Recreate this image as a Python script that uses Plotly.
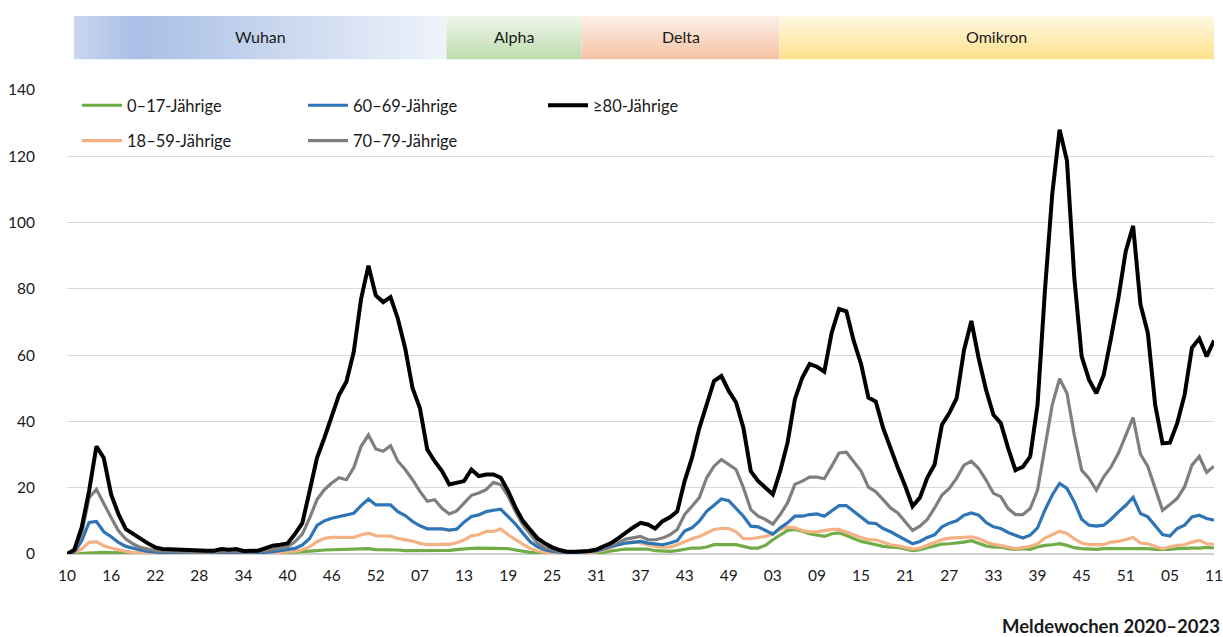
import plotly.graph_objects as go

# ---------------- data ----------------
n_weeks = 157  # Meldewochen 2020-W10 ... 2023-W11 (category index)
tick_positions = list(range(0, 157, 6))
tick_labels = ["10", "16", "22", "28", "34", "40", "46", "52", "07", "13", "19", "25", "31",
               "37", "43", "49", "03", "09", "15", "21", "27", "33", "39", "45", "51", "05", "11"]

age_0_17 = [
    0, 0.1, 0.3, 0.5, 0.6, 0.5, 0.4, 0.3, 0.3, 0.2,
    0.2, 0.2, 0.1, 0.1, 0.1, 0.1, 0.1, 0.1, 0.1, 0.1,
    0.1, 0.1, 0.1, 0.1, 0.1, 0.1, 0.1, 0.2, 0.2, 0.3,
    0.4, 0.5, 0.6, 0.8, 1.0, 1.2, 1.3, 1.4, 1.4, 1.4,
    1.5, 1.6, 1.3, 1.3, 1.3, 1.2, 1.0, 1.0, 1.0, 1.0,
    1.0, 1.0, 1.1, 1.3, 1.6, 1.7, 1.8, 1.8, 1.8, 1.8,
    1.6, 1.2, 0.8, 0.5, 0.3, 0.2, 0.2, 0.2, 0.2, 0.2,
    0.3, 0.4, 0.5, 0.5, 0.9, 1.3, 1.5, 1.5, 1.6, 1.5,
    1.0, 0.9, 0.8, 1.0, 1.3, 1.8, 1.8, 2.1, 2.8, 2.8,
    3.0, 2.8, 2.3, 1.8, 1.8, 2.6, 4.3, 5.8, 7.1, 7.4,
    6.9, 6.1, 5.6, 5.3, 6.1, 6.4, 5.6, 4.6, 3.8, 3.3,
    2.8, 2.3, 2.1, 2.0, 1.5, 1.0, 1.3, 1.8, 2.3, 3.0,
    3.1, 3.3, 3.6, 4.0, 3.1, 2.4, 2.1, 2.1, 1.6, 1.4,
    1.6, 1.4, 2.1, 2.6, 2.8, 3.1, 2.6, 1.9, 1.6, 1.4,
    1.4, 1.6, 1.6, 1.6, 1.8, 1.8, 1.6, 1.6, 1.4, 1.3,
    1.4, 1.6, 1.8, 1.8, 1.8, 2.0, 1.8,
]

age_18_59 = [
    0, 0.3, 1.5, 3.5, 3.7, 2.5, 1.8, 1.2, 0.8, 0.5,
    0.4, 0.3, 0.3, 0.2, 0.2, 0.2, 0.2, 0.2, 0.2, 0.2,
    0.2, 0.2, 0.2, 0.2, 0.2, 0.2, 0.3, 0.3, 0.4, 0.5,
    0.6, 0.8, 1.3, 2.2, 3.7, 4.7, 5.0, 5.0, 5.0, 5.0,
    5.8, 6.3, 5.5, 5.5, 5.4, 4.7, 4.3, 3.9, 3.2, 2.8,
    2.8, 3.0, 2.9, 3.4, 4.2, 5.5, 5.8, 6.8, 6.8, 7.5,
    5.8, 4.3, 2.9, 1.7, 0.9, 0.5, 0.3, 0.2, 0.2, 0.2,
    0.3, 0.4, 0.7, 1.2, 2.0, 2.8, 3.3, 3.8, 3.3, 2.8,
    2.3, 2.1, 2.1, 2.8, 3.8, 4.6, 5.3, 6.4, 7.4, 7.7,
    7.7, 6.7, 4.6, 4.6, 5.0, 5.3, 6.0, 7.4, 8.1, 7.9,
    7.1, 6.7, 6.7, 7.1, 7.4, 7.4, 6.7, 5.8, 5.0, 4.3,
    4.3, 3.5, 2.8, 2.5, 2.1, 1.5, 1.8, 2.6, 3.3, 4.3,
    4.8, 4.8, 5.0, 5.2, 4.6, 3.6, 2.9, 2.6, 2.1, 1.6,
    1.9, 2.3, 3.1, 4.8, 5.8, 6.9, 6.2, 4.6, 3.3, 2.8,
    2.8, 2.8, 3.6, 3.8, 4.4, 5.0, 3.3, 3.1, 2.3, 1.6,
    2.1, 2.6, 2.8, 3.6, 4.1, 3.1, 2.9,
]

age_60_69 = [
    0, 0.5, 4.0, 9.5, 9.8, 6.7, 5.2, 3.5, 2.3, 1.7,
    1.2, 0.8, 0.5, 0.4, 0.3, 0.3, 0.3, 0.3, 0.3, 0.3,
    0.3, 0.3, 0.3, 0.4, 0.3, 0.3, 0.4, 0.5, 0.7, 1.0,
    1.2, 1.7, 2.7, 4.7, 8.6, 10.0, 10.8, 11.3, 11.8, 12.3,
    14.6, 16.6, 14.8, 14.8, 14.8, 12.8, 11.6, 9.8, 8.5, 7.6,
    7.6, 7.6, 7.2, 7.5, 9.6, 11.3, 11.8, 12.8, 13.2, 13.5,
    11.3, 9.0, 6.3, 3.7, 2.2, 1.3, 0.8, 0.5, 0.4, 0.4,
    0.5, 0.6, 0.9, 1.5, 2.3, 2.8, 3.3, 3.5, 3.8, 3.3,
    3.1, 2.8, 3.3, 4.0, 6.9, 7.9, 9.9, 12.9, 14.7, 16.6,
    16.1, 13.9, 11.4, 8.4, 8.2, 7.1, 6.0, 7.9, 9.4, 11.4,
    11.4, 11.9, 12.1, 11.4, 13.1, 14.6, 14.6, 12.9, 10.9, 9.4,
    9.2, 7.7, 6.7, 5.5, 4.3, 3.1, 3.8, 5.0, 5.8, 8.2,
    9.3, 10.0, 11.7, 12.4, 11.7, 9.5, 8.2, 7.7, 6.5, 5.7,
    4.8, 5.7, 7.9, 13.2, 17.8, 21.3, 19.8, 15.7, 10.5, 8.7,
    8.4, 8.7, 10.5, 12.7, 14.7, 17.1, 12.2, 11.2, 8.7, 5.9,
    5.4, 7.7, 8.7, 11.2, 11.7, 10.7, 10.2,
]

age_70_79 = [
    0, 0.8, 6.0, 17.0, 19.5, 15.0, 11.0, 7.0, 4.5, 3.0,
    2.0, 1.5, 1.0, 0.8, 0.7, 0.6, 0.6, 0.5, 0.5, 0.5,
    0.6, 0.7, 0.7, 0.8, 0.6, 0.6, 0.7, 1.0, 1.4, 1.7,
    2.2, 3.7, 6.0, 10.8, 16.4, 19.4, 21.4, 23.0, 22.4, 26.0,
    32.5, 35.9, 31.7, 31.0, 32.7, 28.0, 25.5, 22.4, 18.9, 15.9,
    16.4, 13.8, 12.1, 13.0, 15.4, 17.7, 18.4, 19.4, 21.6, 20.9,
    17.4, 12.8, 8.8, 5.8, 3.2, 1.9, 1.2, 0.7, 0.6, 0.6,
    0.7, 1.0, 1.4, 1.8, 2.8, 3.5, 4.5, 4.8, 5.3, 4.3,
    4.3, 4.8, 5.8, 7.4, 11.9, 14.4, 17.0, 23.0, 26.5, 28.5,
    27.0, 25.5, 20.0, 13.4, 11.4, 10.4, 9.0, 11.9, 15.4, 21.0,
    22.0, 23.2, 23.2, 22.7, 26.5, 30.5, 30.7, 28.0, 25.0, 20.2,
    18.8, 16.4, 13.9, 12.4, 9.9, 7.1, 8.4, 10.4, 13.9, 17.8,
    19.8, 22.9, 26.8, 28.0, 25.8, 22.3, 18.3, 17.3, 13.7, 11.9,
    11.9, 13.7, 19.3, 31.9, 45.0, 52.9, 48.5, 35.9, 25.3, 22.8,
    19.3, 23.3, 26.3, 30.4, 36.0, 41.2, 30.1, 26.4, 19.8, 13.2,
    14.9, 16.8, 20.3, 26.8, 29.4, 24.6, 26.5,
]

age_80_plus = [
    0, 1.3, 8.0, 19.0, 32.5, 29.0, 18.0, 12.0, 7.5, 6.0,
    4.5, 3.2, 2.0, 1.5, 1.4, 1.3, 1.2, 1.1, 0.8, 1.0,
    1.0, 1.5, 1.3, 1.5, 0.9, 0.9, 1.0, 1.8, 2.5, 2.8,
    3.2, 6.0, 9.3, 19.0, 29.0, 35.0, 42.0, 48.0, 52.0, 61.0,
    77.0, 87.0, 78.0, 76.0, 77.5, 71.0, 62.0, 50.0, 44.0, 31.5,
    28.0, 25.0, 21.0, 21.5, 22.0, 25.5, 23.5, 24.0, 24.0, 23.0,
    19.0, 14.0, 10.0, 7.3, 4.7, 3.2, 2.0, 1.2, 0.7, 0.7,
    0.7, 0.9, 1.3, 2.3, 3.3, 4.8, 6.5, 8.0, 9.4, 8.9,
    7.7, 9.9, 11.1, 12.9, 22.0, 29.0, 38.0, 44.7, 52.2, 53.7,
    49.2, 45.7, 38.0, 25.0, 22.0, 20.0, 18.0, 25.0, 33.6, 46.7,
    53.2, 57.3, 56.5, 55.0, 66.8, 73.9, 73.2, 64.3, 57.3, 47.2,
    46.0, 38.0, 31.6, 26.0, 20.5, 14.4, 17.0, 23.0, 27.0, 39.0,
    42.5, 47.0, 61.5, 70.3, 59.0, 49.5, 42.0, 39.5, 31.9, 25.3,
    26.3, 29.4, 45.0, 79.3, 108.6, 128.0, 118.7, 83.4, 59.6, 52.6,
    48.5, 54.0, 65.2, 77.3, 91.4, 99.0, 75.3, 66.7, 45.0, 33.4,
    33.6, 39.5, 48.0, 62.2, 65.0, 59.6, 64.4,
]

series_names = ["0\u201317-J\u00e4hrige", "18\u201359-J\u00e4hrige", "60\u201369-J\u00e4hrige",
                "70\u201379-J\u00e4hrige", "\u226580-J\u00e4hrige"]
series_values = [age_0_17, age_18_59, age_60_69, age_70_79, age_80_plus]
series_colors = ["#70AD47", "#F4B183", "#2E75B6", "#7F7F7F", "#000000"]
series_widths = [3.2, 3.2, 3.2, 3.2, 4]
series_legend = ["legend", "legend", "legend2", "legend2", "legend3"]

phase_names = ["Wuhan", "Alpha", "Delta", "Omikron"]
phase_start = [0.95, 51.6, 70.0, 96.9]
phase_end = [51.6, 70.0, 96.9, 156.0]
phase_gradient_type = ["horizontal", "vertical", "vertical", "vertical"]
phase_colorscales = [
    [[0, "#C9D6EF"], [0.17, "#A9BFE5"], [1, "#EFF3FB"]],
    [[0, "#BEDCAE"], [1, "#EEF6EA"]],
    [[0, "#F5C2A3"], [1, "#FDF0EA"]],
    [[0, "#FFE08A"], [1, "#FFF9E5"]],
]

# ---------------- figure ----------------
W, H = 1223, 637
ml, mr, mt, mb = 67, 9, 16, 83
plot_h = H - mt - mb
x_idx = list(range(n_weeks))

fig = go.Figure()

for name, s, e, gt, cs in zip(phase_names, phase_start, phase_end,
                              phase_gradient_type, phase_colorscales):
    fig.add_trace(go.Scatter(
        x=[s, e, e, s, s], y=[0, 0, 1, 1, 0], xaxis="x", yaxis="y2",
        mode="lines", line=dict(width=0), fill="toself",
        fillgradient=dict(type=gt, colorscale=cs),
        hoverinfo="skip", showlegend=False))
    fig.add_annotation(x=(s + e) / 2, y=0.54, xref="x", yref="y2", text=name,
                       showarrow=False, font=dict(size=16, color="#1a1a1a"))

for i, (name, vals, col, w, lg) in enumerate(zip(series_names, series_values, series_colors,
                                                 series_widths, series_legend)):
    fig.add_trace(go.Scatter(
        x=x_idx, y=vals, mode="lines", name=name,
        line=dict(color=col, width=w), legend=lg, legendgroup=f"g{i}",
        cliponaxis=False))

def px_y(p):
    return (H - mb - p) / plot_h

def px_x(p):
    return (p - ml) / (W - ml - mr)

leg_common = dict(yanchor="top", xanchor="left", bgcolor="rgba(0,0,0,0)",
                  font=dict(size=16.5, color="#1a1a1a"), traceorder="grouped",
                  tracegroupgap=11, itemwidth=40, orientation="v")

fig.update_layout(
    width=W, height=H,
    margin=dict(l=ml, r=mr, t=mt, b=mb, autoexpand=False),
    plot_bgcolor="white", paper_bgcolor="white",
    font=dict(family="Lato, 'Open Sans', sans-serif", size=16, color="#1a1a1a"),
    xaxis=dict(range=[0, n_weeks - 1], tickmode="array", tickvals=tick_positions,
               ticktext=tick_labels, showgrid=False, zeroline=False, showline=False,
               ticks="", ticklabelstandoff=10, tickfont=dict(size=15.5), automargin=False),
    yaxis=dict(domain=[0, (H - mb - 90) / plot_h], range=[0, 140], dtick=20,
               showgrid=True, gridcolor="#D9D9D9", gridwidth=1,
               zeroline=True, zerolinecolor="#D0D0D0", zerolinewidth=2,
               ticks="", ticklabelstandoff=31, tickfont=dict(size=15.5), showline=False,
               automargin=False),
    yaxis2=dict(domain=[px_y(59.5), 1], range=[0, 1], visible=False, anchor="x"),
    legend=dict(x=px_x(77), y=px_y(88), **leg_common),
    legend2=dict(x=px_x(303), y=px_y(88), **leg_common),
    legend3=dict(x=px_x(543), y=px_y(88), **leg_common),
    showlegend=True,
)

fig.add_annotation(text="<b>Meldewochen 2020\u20132023</b>", xref="paper", yref="paper",
                   x=px_x(1111), y=px_y(626), xanchor="center", yanchor="middle",
                   showarrow=False, font=dict(size=18.5, color="#1a1a1a"))

fig.write_html("out.html", config={"displayModeBar": False},
               post_script="document.body.style.margin='0';")
